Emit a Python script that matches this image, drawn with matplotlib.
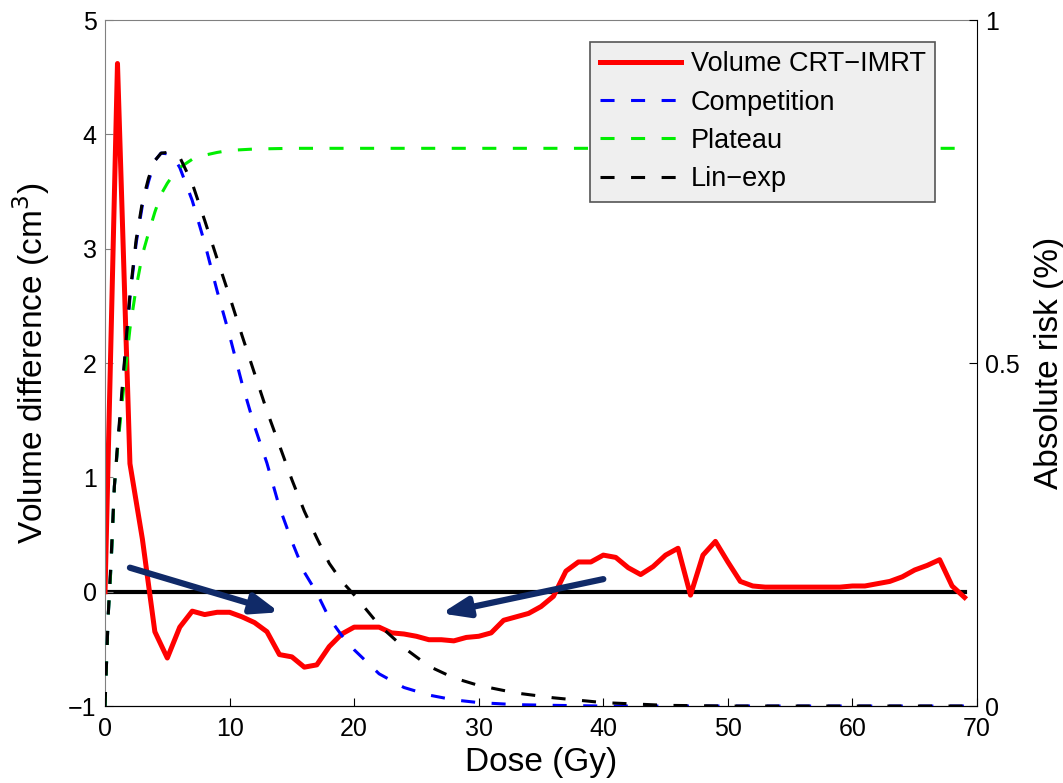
import numpy as np
import matplotlib
matplotlib.use("Agg")
import matplotlib.pyplot as plt
from matplotlib.lines import Line2D

plt.rcParams['font.family'] = ['Liberation Sans', 'DejaVu Sans']

# Volume difference CRT - IMRT (cm^3), one value per Gy
dose = np.arange(0, 70)
vol_diff = [0, 4.62, 1.12, 0.46, -0.35, -0.58, -0.31, -0.17, -0.20, -0.18,
            -0.18, -0.22, -0.27, -0.35, -0.55, -0.57, -0.66, -0.64, -0.48, -0.37,
            -0.31, -0.31, -0.31, -0.36, -0.37, -0.39, -0.42, -0.42, -0.43, -0.40,
            -0.39, -0.36, -0.25, -0.22, -0.19, -0.13, -0.04, 0.18, 0.26, 0.26,
            0.32, 0.30, 0.21, 0.15, 0.22, 0.32, 0.38, -0.03, 0.32, 0.44,
            0.26, 0.09, 0.05, 0.04, 0.04, 0.04, 0.04, 0.04, 0.04, 0.04,
            0.05, 0.05, 0.07, 0.09, 0.13, 0.19, 0.23, 0.28, 0.05, -0.05]

# risk models (absolute risk, %)
dose_risk = [0, 0.25, 0.5, 0.75, 1, 1.5, 2, 2.5, 3, 3.5, 4, 4.5, 5, 5.5, 6, 7, 8, 9,
             10, 11, 12, 13, 14, 15, 16, 17, 18, 19, 20, 22, 24, 26, 28, 30, 33,
             36, 40, 45, 50, 60, 69]
competition = [0, 0.13, 0.21, 0.32, 0.375, 0.485, 0.595, 0.675, 0.73, 0.765, 0.795,
               0.806, 0.805, 0.80, 0.785, 0.737, 0.675, 0.605, 0.54, 0.47, 0.408,
               0.354, 0.29, 0.24, 0.195, 0.165, 0.128, 0.103, 0.082, 0.047, 0.027,
               0.016, 0.009, 0.005, 0.002, 0.001, 0, 0, 0, 0, 0]
lin_exp = [0, 0.13, 0.22, 0.32, 0.38, 0.49, 0.60, 0.68, 0.735, 0.77, 0.795,
           0.806, 0.807, 0.805, 0.80, 0.762, 0.708, 0.652, 0.597, 0.54, 0.485,
           0.43, 0.38, 0.33, 0.284, 0.245, 0.208, 0.182, 0.162, 0.118, 0.085,
           0.058, 0.041, 0.030, 0.019, 0.012, 0.005, 0.001, 0, 0, 0]

dose_plateau = [0, 0.25, 0.5, 0.75, 1, 1.5, 2, 2.5, 3, 3.5, 4, 4.5, 5, 5.5, 6, 7, 8,
                9, 10, 12, 15, 20, 30, 40, 50, 60, 69]
plateau = [0, 0.13, 0.21, 0.32, 0.375, 0.465, 0.55, 0.61, 0.658, 0.69, 0.72,
           0.746, 0.762, 0.775, 0.785, 0.797, 0.803, 0.807, 0.81, 0.812, 0.813,
           0.813, 0.813, 0.813, 0.813, 0.813, 0.813]

labels = ['Volume CRT\u2212IMRT', 'Competition', 'Plateau', 'Lin\u2212exp']

fig = plt.figure(figsize=(10.63, 7.83), dpi=100)
ax = fig.add_axes([0.0988, 0.0983, 0.8203, 0.8761])
ax2 = ax.twinx()

dash = (4.6, 5.4)
ax.axhline(0, xmin=0, xmax=69 / 70, color='black', lw=3, zorder=1)
ax.plot(dose, vol_diff, color='#ff0000', lw=3.6, zorder=2)

ax2.plot(dose_risk, competition, color='#0000ff', lw=2.2, dashes=dash)
ax2.plot(dose_plateau, plateau, color='#00ee00', lw=2.2, dashes=dash)
ax2.plot(dose_risk, lin_exp, color='black', lw=2.2, dashes=dash)

ax.set_xlim(0, 70)
ax.set_ylim(-1, 5)
ax2.set_ylim(0, 1)
ax.set_xticks(range(0, 71, 10))
ax.set_yticks(range(-1, 6))
ax2.set_yticks([0, 0.5, 1])
ax2.set_yticklabels(['0', '0.5', '1'])

ax.tick_params(direction='in', length=6, labelsize=18, pad=6)
ax2.tick_params(direction='in', length=6, labelsize=18, pad=6)
ax.tick_params(axis='y', color='#808080')
ax.tick_params(axis='x', pad=8)

ax.set_xlabel('Dose (Gy)', fontsize=24, labelpad=4)
ax.set_ylabel('Volume difference (cm$^3$)', fontsize=24, labelpad=12)
ax2.set_ylabel('Absolute risk (%)', fontsize=24, labelpad=10)

for s in ['left', 'top']:
    ax.spines[s].set_color('#808080')
    ax2.spines[s].set_visible(False)
ax.spines['right'].set_visible(False)
ax2.spines['right'].set_color('black')
ax2.spines['bottom'].set_color('black')

# arrows pointing at the negative regions
arrow_col = '#102a68'
arrow_style = '-|>,head_length=1.6,head_width=0.6'
ax2.annotate('', xy=(14.0, -0.18), xytext=(2.0, 0.21),
             xycoords=ax.transData, textcoords=ax.transData,
             arrowprops=dict(arrowstyle=arrow_style, color=arrow_col, lw=4.5,
                             shrinkA=0, shrinkB=0))
ax2.annotate('', xy=(27.0, -0.19), xytext=(40.0, 0.11),
             xycoords=ax.transData, textcoords=ax.transData,
             arrowprops=dict(arrowstyle=arrow_style, color=arrow_col, lw=4.5,
                             shrinkA=0, shrinkB=0))

handles = [Line2D([], [], color='#ff0000', lw=3.6),
           Line2D([], [], color='#0000ff', lw=2.2, dashes=dash),
           Line2D([], [], color='#00ee00', lw=2.2, dashes=dash),
           Line2D([], [], color='black', lw=2.2, dashes=dash)]
leg = ax2.legend(handles, labels, loc='upper right', bbox_to_anchor=(0.952, 0.968),
                 borderaxespad=0, fontsize=19.5, handlelength=3.0, handletextpad=0.35,
                 labelspacing=0.45, borderpad=0.35, fancybox=False, framealpha=1,
                 facecolor='#efefef', edgecolor='#555555')
leg.get_frame().set_linewidth(1.2)

fig.savefig('out.png', dpi=100)
